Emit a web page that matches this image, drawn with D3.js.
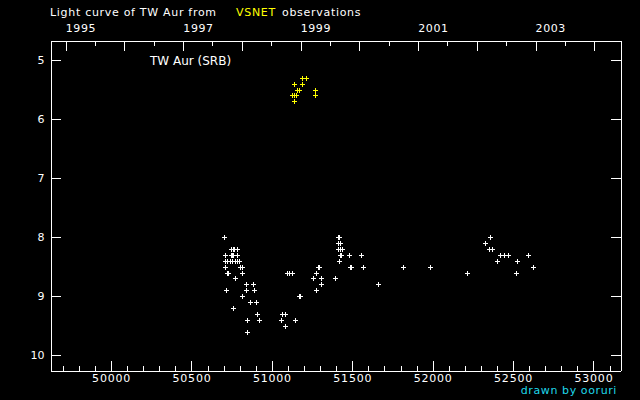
<!DOCTYPE html>
<html><head><meta charset="utf-8">
<script src="https://cdn.jsdelivr.net/npm/d3@7"></script>
<style>
html,body{margin:0;padding:0;background:#000;}
svg{display:block;}
text{font-family:"DejaVu Sans",sans-serif;}
</style></head>
<body>
<svg id="c" width="640" height="400"></svg>
<script>
// ---- data ----
const whiteMJD = [50700,50748,50756,50764,50782,50706,50745,50752,50758,50786,50707,50720,50739,50751,50770,50782,50794,50706,50802,50817,50723,50730,50817,50773,50842,50885,50717,50842,50891,50817,50866,50904,50761,50910,50848,50922,50848,
 51094,51109,51127,51170,51176,51065,51084,51059,51146,51084,
 51410,51416,51413,51425,51413,51425,51438,51422,51428,51481,51556,51419,51284,51290,51488,51495,51568,51276,51258,51307,51394,51307,51661,51276,
 51817,51984,52214,
 52357,52326,52351,52370,52419,52444,52469,52593,52401,52525,52519,52624];
const whiteMag = [8.0,8.2,8.2,8.2,8.2,8.3,8.3,8.3,8.3,8.3,8.4,8.4,8.4,8.4,8.4,8.4,8.4,8.5,8.5,8.5,8.6,8.6,8.6,8.7,8.8,8.8,8.9,8.9,8.9,9.0,9.1,9.1,9.2,9.3,9.4,9.4,9.6,
 8.6,8.6,8.6,9.0,9.0,9.3,9.3,9.4,9.4,9.5,
 8.0,8.0,8.1,8.1,8.2,8.2,8.2,8.3,8.3,8.3,8.3,8.4,8.5,8.5,8.5,8.5,8.5,8.6,8.7,8.7,8.7,8.8,8.8,8.9,
 8.5,8.5,8.6,
 8.0,8.1,8.2,8.2,8.3,8.3,8.3,8.3,8.4,8.4,8.6,8.5];
const yellowMJD = [51189,51214,51140,51189,51158,51171,51270,51127,51140,51152,51270,51140];
const yellowMag = [5.3,5.3,5.4,5.4,5.5,5.5,5.5,5.6,5.6,5.6,5.6,5.7];
const xMajorTicks = [50000,50500,51000,51500,52000,52500,53000];
const yTicks = [5,6,7,8,9,10];
const years = [1995,1996,1997,1998,1999,2000,2001,2002,2003,2004];
const yearLabels = [1995,1997,1999,2001,2003];

// ---- layout ----
const L=50, R=620, T=40, B=370;
const svg = d3.select("#c");
svg.append("rect").attr("width",640).attr("height",400).attr("fill","#000");
const x = d3.scaleLinear().domain([49620,53165]).range([L,R]);
const y = d3.scaleLinear().domain([4.66,10.25]).range([T,B]);
const mjd = (yr,mo) => (Date.UTC(yr,mo,1) - Date.UTC(1858,10,17))/86400000;
const yearMJD = years.map(yr=>mjd(yr,0));
const halfMJD = years.map(yr=>mjd(yr,6)).filter(v=>v>49620 && v<53165);
const xMinor = d3.range(49700,53165,100).filter(v=>v%500!==0);

function styleAxis(g){
  g.selectAll("path,line").attr("stroke","#fff").attr("stroke-width",1).attr("shape-rendering","crispEdges");
  g.selectAll("text").attr("fill","#fff").attr("font-size",11).attr("font-family","DejaVu Sans");
}
// bottom
svg.append("g").attr("transform",`translate(0,${B+0.5})`)
  .call(d3.axisBottom(x).tickValues(xMinor).tickSizeInner(-5).tickSizeOuter(0).tickFormat(""))
  .call(styleAxis);
const gb = svg.append("g").attr("transform",`translate(0,${B+0.5})`)
  .call(d3.axisBottom(x).tickValues(xMajorTicks).tickSizeInner(-10).tickSizeOuter(0).tickPadding(4).tickFormat(d3.format("d")))
  .call(styleAxis);
gb.selectAll("text").attr("letter-spacing","0.8px");
// top
svg.append("g").attr("transform",`translate(0,${T+0.5})`)
  .call(d3.axisTop(x).tickValues(halfMJD).tickSizeInner(-5).tickSizeOuter(0).tickFormat(""))
  .call(styleAxis);
svg.append("g").attr("transform",`translate(0,${T+0.5})`)
  .call(d3.axisTop(x).tickValues(yearMJD.filter(v=>v>49620&&v<53165)).tickSizeInner(-10).tickSizeOuter(0).tickFormat(""))
  .call(styleAxis);
svg.append("g").selectAll("text").data(yearLabels).join("text")
  .attr("x",d=>x(mjd(d,0))).attr("y",32).attr("fill","#fff").attr("font-size",11)
  .attr("letter-spacing","0.6px").text(d=>d);
// left
svg.append("g").attr("transform",`translate(${L+0.5},0)`)
  .call(d3.axisLeft(y).tickValues(yTicks).tickSizeInner(-10).tickSizeOuter(0).tickPadding(6).tickFormat(d3.format("d")))
  .call(styleAxis);
// right
svg.append("g").attr("transform",`translate(${R+0.5},0)`)
  .call(d3.axisRight(y).tickValues(yTicks).tickSizeInner(-10).tickSizeOuter(0).tickFormat(""))
  .call(styleAxis);

// points
const cross = "M-2.5,0H2.5M0,-2.5V2.5";
function plot(xs, ms, color){
  svg.append("g").selectAll("path").data(xs.map((v,i)=>[v,ms[i]])).join("path")
    .attr("d",cross)
    .attr("transform",d=>`translate(${Math.round(x(d[0]))+0.5},${Math.round(y(d[1]))+0.5})`)
    .attr("stroke",color).attr("stroke-width",1).attr("fill","none").attr("shape-rendering","crispEdges");
}
plot(whiteMJD, whiteMag, "#fff");
plot(yellowMJD, yellowMag, "#ffff00");

// texts
const title = svg.append("text").attr("y",16).attr("font-size",11).attr("fill","#fff").attr("letter-spacing","0.7px");
title.append("tspan").attr("x",50).text("Light curve of TW Aur from");
title.append("tspan").attr("x",236).attr("fill","#ffff00").text("VSNET");
title.append("tspan").attr("x",282).text("observations");
svg.append("text").attr("x",150).attr("y",65).attr("font-size",12).attr("fill","#fff").text("TW Aur (SRB)");
svg.append("text").attr("x",617).attr("y",394).attr("text-anchor","end").attr("font-size",11).attr("letter-spacing","0.6px").attr("fill","#1fd8ea").text("drawn by ooruri");
</script>
</body></html>
